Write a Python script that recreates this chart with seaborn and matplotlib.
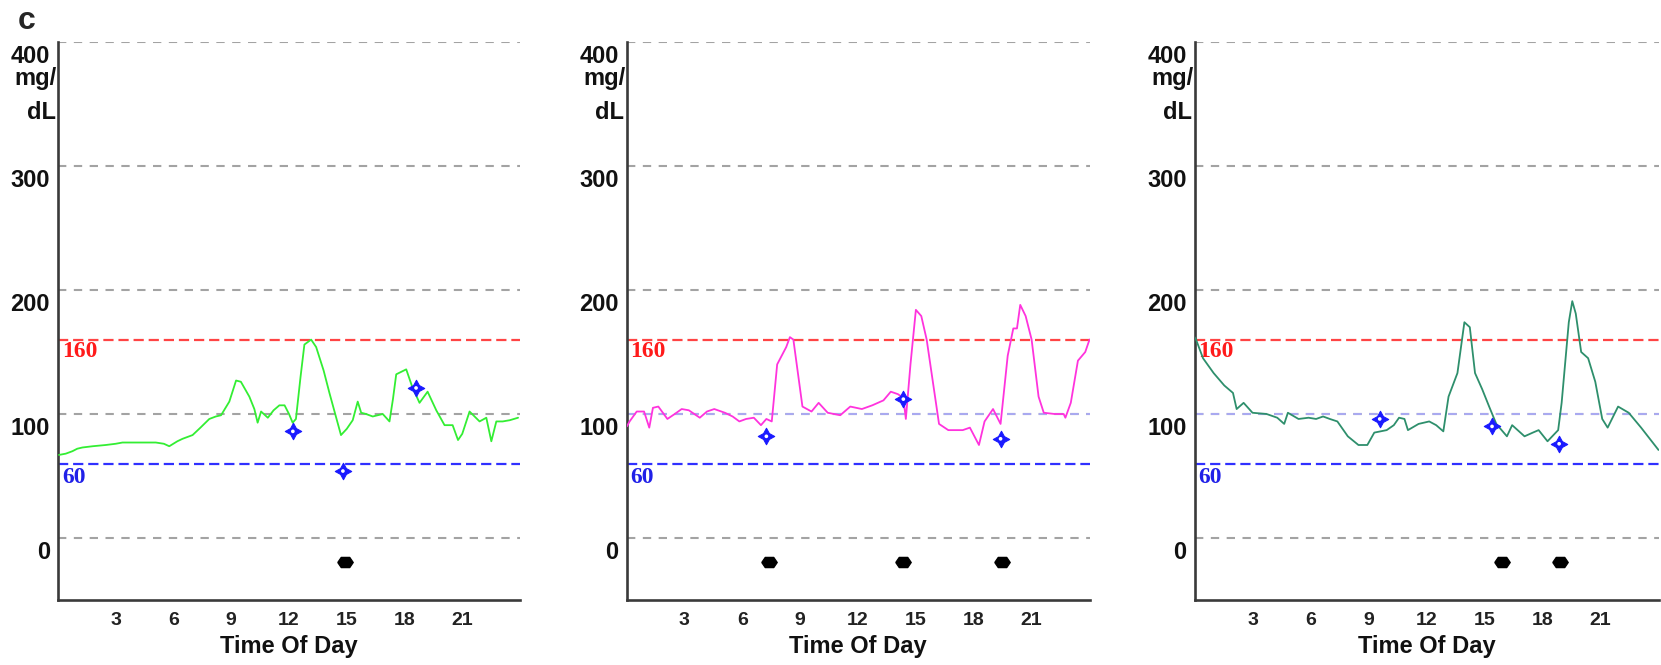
import numpy as np
import pandas as pd
import matplotlib
matplotlib.use("Agg")
import matplotlib.pyplot as plt
import matplotlib.transforms as mtransforms
import seaborn as sns
from matplotlib.ticker import FixedLocator

# ---------------- data ----------------
p1_hours = [0.05, 0.4, 0.75, 1.0, 1.27, 1.8, 2.48, 3.0, 3.35, 4.0, 4.56, 5.08, 5.5, 5.78, 6.2, 6.47,
            6.99, 7.4, 7.86, 8.2, 8.47, 8.9, 9.25, 9.5, 9.94, 10.2, 10.37, 10.55, 10.9, 11.2, 11.5,
            11.77, 12.0, 12.19, 12.36, 12.6, 12.8, 13.15, 13.41, 13.8, 14.1, 14.4, 14.7, 15.0,
            15.31, 15.57, 15.75, 16.0, 16.35, 16.87, 17.22, 17.4, 17.57, 18.09, 18.4, 18.78,
            19.2, 19.65, 20.08, 20.5, 20.78, 21.0, 21.38, 21.9, 22.25, 22.51, 22.77, 23.1,
            23.47, 23.9]
p1_glucose = [67, 68, 70, 72, 73, 74, 75, 76, 77, 77, 77, 77, 76, 74, 78, 80,
              83, 89, 96, 98, 99, 110, 127, 126, 114, 104, 93, 102, 97, 103, 107,
              107, 100, 93, 96, 130, 156, 160, 154, 135, 117, 100, 83, 88,
              95, 110, 101, 100, 98, 100, 94, 112, 132, 136, 122, 109,
              118, 103, 91, 91, 79, 84, 102, 94, 97, 78, 94, 94,
              95, 97]

p2_hours = [0.02, 0.16, 0.53, 0.91, 1.18, 1.37, 1.65, 2.12, 2.5, 2.86, 3.23, 3.8, 4.17, 4.55,
            5.1, 5.5, 5.85, 6.2, 6.6, 6.97, 7.25, 7.53, 7.81, 8.28, 8.47, 8.65, 9.12, 9.59,
            9.96, 10.43, 11.08, 11.6, 12.2, 12.74, 13.32, 13.7, 14.07, 14.35, 14.48, 14.72,
            15.0, 15.28, 15.56, 16.2, 16.68, 17.43, 17.8, 18.27, 18.56, 19.0, 19.39, 19.76,
            20.05, 20.24, 20.41, 20.69, 21.0, 21.36, 21.63, 22.2, 22.66, 22.75, 23.03, 23.4,
            23.78, 24.0]
p2_glucose = [90, 94, 102, 102, 89, 105, 106, 96, 100, 104, 103, 97, 102, 104,
              101, 98, 94, 96, 97, 91, 96, 94, 140, 154, 162, 160, 106, 102,
              109, 101, 99, 106, 104, 107, 111, 118, 116, 113, 96, 140,
              184, 179, 160, 92, 87, 87, 89, 75, 94, 104, 92, 147,
              169, 169, 188, 179, 160, 114, 101, 100, 100, 97, 109, 143,
              150, 160]

p3_hours = [0.0, 0.08, 0.44, 0.99, 1.54, 1.99, 2.18, 2.54, 3.0, 3.73, 4.28, 4.64, 4.83, 5.38,
            5.9, 6.29, 6.65, 7.0, 7.39, 7.93, 8.48, 8.94, 9.3, 9.94, 10.31, 10.58, 10.86, 11.04,
            11.59, 12.14, 12.5, 12.87, 13.14, 13.6, 13.96, 14.24, 14.51, 14.88, 15.24, 15.61,
            16.16, 16.43, 17.07, 17.5, 17.8, 18.26, 18.81, 18.99, 19.36, 19.54, 19.72, 20.0,
            20.36, 20.73, 21.09, 21.37, 21.91, 22.46, 23.1, 23.65, 24.0]
p3_glucose = [162, 160, 145, 133, 123, 117, 104, 109, 101, 100, 97, 92, 101, 96,
              97, 96, 98, 96, 94, 82, 75, 75, 85, 87, 91, 97, 96, 87,
              92, 94, 91, 86, 114, 133, 174, 170, 133, 120, 106, 92,
              82, 91, 82, 85, 87, 78, 87, 109, 174, 191, 181, 150,
              145, 126, 96, 89, 106, 101, 89, 78, 71]

p1_star_hours = [12.2, 14.8, 18.6]
p1_star_values = [86, 54, 121]
p2_star_hours = [7.25, 14.35, 19.39]
p2_star_values = [82, 112, 80]
p3_star_hours = [9.58, 15.39, 18.86]
p3_star_values = [96, 90, 76]

p1_dot_hours = [14.9]
p2_dot_hours = [7.4, 14.35, 19.45]
p3_dot_hours = [15.88, 18.9]
dot_level = -19

y_ticks = [0, 100, 200, 300, 400]
y_tick_labels = ["0", "100", "200", "300", "400"]
unit_lines = ["mg/", "dL"]
x_major = [3, 6, 9, 12, 15, 18, 21]
x_major_labels = ["3", "6", "9", "12", "15", "18", "21"]
x_minor = [1, 2, 4, 5, 7, 8, 10, 11, 13, 14, 16, 17, 19, 20, 22, 23]
high_limit = 160
low_limit = 60

line_colors = ["#33ee33", "#ff33dd", "#2e8f6c"]

# ---------------- style ----------------
sns.set_style("white")
plt.rcParams["font.family"] = ["Liberation Sans", "DejaVu Sans"]

W, H = 1661, 665
fig = plt.figure(figsize=(W / 100, H / 100), dpi=100)

panels = [
    (p1_hours, p1_glucose, p1_star_hours, p1_star_values, p1_dot_hours, 58, 462),
    (p2_hours, p2_glucose, p2_star_hours, p2_star_values, p2_dot_hours, 626.5, 463),
    (p3_hours, p3_glucose, p3_star_hours, p3_star_values, p3_dot_hours, 1194.5, 464),
]

top_px, bottom_px = 42, 600
hex_marker = [(-1, 0), (-0.55, 0.66), (0.55, 0.66), (1, 0), (0.55, -0.66), (-0.55, -0.66), (-1, 0)]

for i, (hx, gy, sx, sy, dx, left_px, width_px) in enumerate(panels):
    ax = fig.add_axes([left_px / W, (H - bottom_px) / H, width_px / W, (bottom_px - top_px) / H])
    ax.set_xlim(0, 24)
    ax.set_ylim(-50, 400)

    # grid lines
    for yv in y_ticks:
        ax.axhline(yv, color="#a3a3a3", lw=1.5, ls=(0, (4, 3.6)), zorder=1)
    if i > 0:
        ax.plot([0, 24], [100, 100], color="#a9a9f0", lw=1.5, ls=(0, (4, 3.6)), zorder=1.1)
    # limits
    ax.axhline(high_limit, color="#ff4444", lw=1.6, ls=(0, (4.6, 2.2)), zorder=2)
    ax.axhline(low_limit, color="#3030ff", lw=1.6, ls=(0, (4.6, 2.2)), zorder=2)
    ax.text(0.2, high_limit - 1, "160", color="#ff1a1a", fontsize=17, fontweight="bold",
            family=["Liberation Serif", "DejaVu Serif"], va="top", ha="left", zorder=3)
    ax.text(0.2, low_limit - 3, "60", color="#2020e8", fontsize=17, fontweight="bold",
            family=["Liberation Serif", "DejaVu Serif"], va="top", ha="left", zorder=3)

    # trace
    df = pd.DataFrame({"hour": hx, "glucose": gy})
    sns.lineplot(data=df, x="hour", y="glucose", ax=ax, color=line_colors[i], lw=1.3,
                 estimator=None, sort=False, zorder=4)

    # finger-stick markers
    sdf = pd.DataFrame({"hour": sx, "value": sy})
    sns.scatterplot(data=sdf, x="hour", y="value", ax=ax, marker=(4, 1, 0), s=140,
                    color="#1a1aff", edgecolor="#1a1aff", linewidth=0.8, zorder=5)
    sns.scatterplot(data=sdf, x="hour", y="value", ax=ax, marker="o", s=7,
                    color="white", edgecolor="none", zorder=6)

    # event dots
    ddf = pd.DataFrame({"hour": dx, "value": [dot_level] * len(dx)})
    sns.scatterplot(data=ddf, x="hour", y="value", ax=ax, marker=hex_marker, s=125,
                    color="black", edgecolor="black", zorder=5)

    # axes styling
    for s in ["top", "right"]:
        ax.spines[s].set_visible(False)
    for s in ["left", "bottom"]:
        ax.spines[s].set_color("#3a3a3a")
        ax.spines[s].set_linewidth(1.9)

    ax.set_yticks(y_ticks)
    ax.set_yticklabels([])
    ax.tick_params(axis="y", direction="out", length=3.2, width=1.4, color="#3a3a3a")
    ylab_tr = mtransforms.offset_copy(ax.get_yaxis_transform(), fig=fig, x=-8, y=-3, units="dots")
    for yv, lab in zip(y_ticks, y_tick_labels):
        ax.text(0, yv, lab, transform=ylab_tr, ha="right", va="top", fontsize=17,
                fontweight="bold", color="#111111", clip_on=False)
    # unit text under 400
    unit_tr = mtransforms.offset_copy(ax.get_yaxis_transform(), fig=fig, x=-1, y=0, units="dots")
    ax.text(0, 365.5, unit_lines[0], transform=unit_tr, ha="right", va="baseline",
            fontsize=17, fontweight="bold", color="#111111", clip_on=False)
    unit_tr2 = mtransforms.offset_copy(ax.get_yaxis_transform(), fig=fig, x=-2.5, y=0, units="dots")
    ax.text(0, 338, unit_lines[1], transform=unit_tr2, ha="right", va="baseline",
            fontsize=17, fontweight="bold", color="#111111", clip_on=False)

    ax.xaxis.set_major_locator(FixedLocator(x_major))
    ax.xaxis.set_minor_locator(FixedLocator(x_minor))
    ax.set_xticklabels(x_major_labels)
    ax.tick_params(axis="x", which="major", direction="in", length=7.5, width=1.5,
                   color="#3a3a3a", pad=8.4, labelsize=14)
    ax.tick_params(axis="x", which="minor", direction="in", length=3, width=1.5,
                   color="#3a3a3a")
    for lab in ax.get_xticklabels():
        lab.set_fontweight("bold")
        lab.set_color("#222222")

    ax.set_xlabel("Time Of Day", fontsize=17, fontweight="bold", color="#111111")
    ax.xaxis.set_label_coords(0.5, -0.062)
    ax.set_ylabel("")

fig.text(18 / W, 1 - 29 / H, "c", fontsize=23, fontweight="bold", va="baseline", ha="left")

fig.savefig("out.png", dpi=100)
